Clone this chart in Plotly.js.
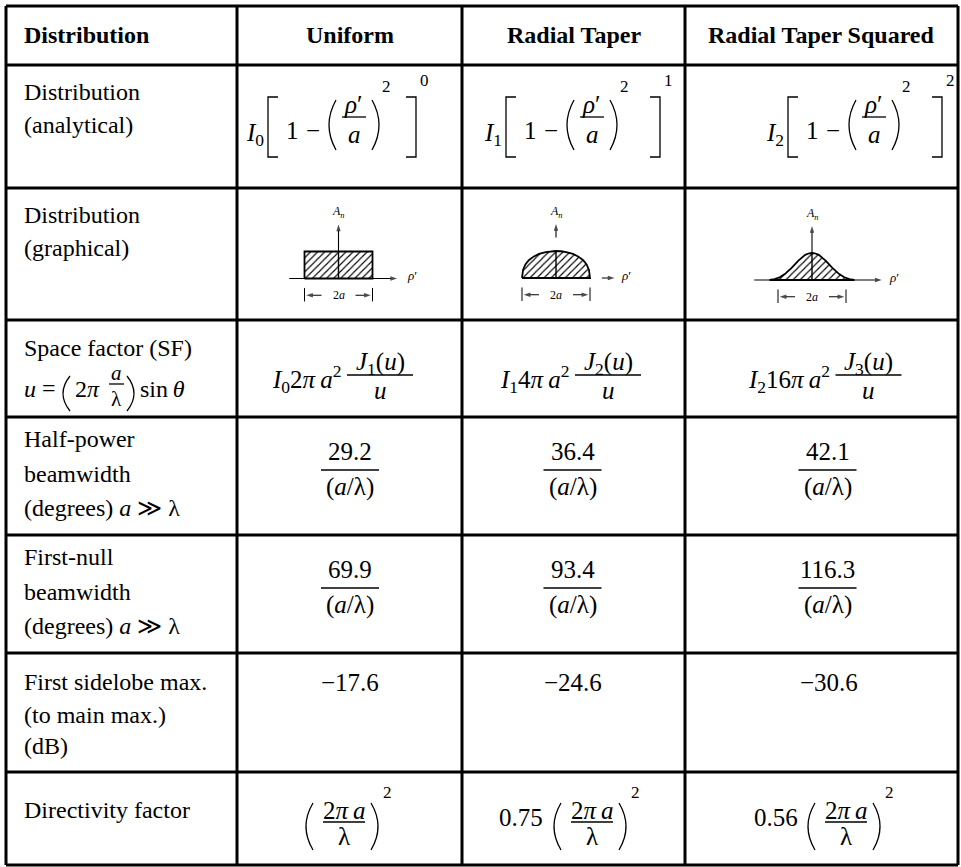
<!DOCTYPE html>
<html><head><meta charset="utf-8">
<script src="https://cdn.plot.ly/plotly-3.0.1.min.js"></script>
<style>html,body{margin:0;padding:0;background:#fff}</style>
</head><body>
<div id="chart" style="width:961px;height:867px"></div>
<script>
// ---------------- data ----------------
const headers = ['Distribution', 'Uniform', 'Radial Taper', 'Radial Taper Squared'];
const rowLabels = [
  ['Distribution', '(analytical)'],
  ['Distribution', '(graphical)'],
  ['Space factor (SF)'],
  ['Half-power', 'beamwidth', '(degrees) <i>a</i> ≫ λ'],
  ['First-null', 'beamwidth', '(degrees) <i>a</i> ≫ λ'],
  ['First sidelobe max.', '(to main max.)', '(dB)'],
  ['Directivity factor']
];
const currentIndex = [0, 1, 2];          // I0, I1, I2
const taperExponent = [0, 1, 2];         // [1-(rho'/a)^2]^n
const sfCoefficient = ['2', '4', '16'];  // I_n (coef) pi a^2
const besselOrder = [1, 2, 3];           // J_k(u)/u
const halfPowerBW = [29.2, 36.4, 42.1];  // degrees * (a/lambda)
const firstNullBW = [69.9, 93.4, 116.3];
const firstSidelobe = [-17.6, -24.6, -30.6]; // dB
const directivityCoef = ['', '0.75', '0.56'];

// graphical distributions (rho'/a vs normalised amplitude), read from the sketches
const uniformRho = [-1, -1, 1, 1, -1];
const uniformAmp = [0, 1, 1, 0, 0];
const taperRho = [-1, -0.97, -0.9, -0.8, -0.65, -0.5, -0.3, -0.15, 0, 0.15, 0.3, 0.5, 0.65, 0.8, 0.9, 0.97, 1, -1];
const taperAmp = [0, 0.3, 0.5, 0.66, 0.8, 0.89, 0.96, 0.99, 1, 0.99, 0.96, 0.89, 0.8, 0.66, 0.5, 0.3, 0, 0];
const squaredRho = [-1.25, -1.1, -0.95, -0.8, -0.6, -0.4, -0.2, -0.08, 0, 0.08, 0.2, 0.4, 0.6, 0.8, 0.95, 1.1, 1.25, -1.25];
const squaredAmp = [0, 0.03, 0.1, 0.22, 0.45, 0.72, 0.93, 0.99, 1, 0.99, 0.93, 0.72, 0.45, 0.22, 0.1, 0.03, 0, 0];

// ---------------- layout helpers ----------------
const W = 961, H = 867;
const FONT = 'Liberation Serif, Times New Roman, serif';
const px = v => v / W, py = v => 1 - v / H;
const ann = [], shapes = [], traces = [];

function T(x, y, text, o) {
  o = o || {};
  ann.push({xref: 'paper', yref: 'paper', x: px(x), y: py(y), text: text, showarrow: false,
    xanchor: o.xa || 'center', yanchor: 'middle', borderpad: 0,
    font: {family: FONT, size: o.s || 25, color: '#000'}});
}
function L(x0, y0, x1, y1, w) {
  shapes.push({type: 'line', xref: 'paper', yref: 'paper', x0: px(x0), y0: py(y0), x1: px(x1), y1: py(y1),
    line: {color: '#000', width: w || 1.6}});
}
function P(pts, w) {
  shapes.push({type: 'path', xref: 'paper', yref: 'paper', path: pts, line: {color: '#000', width: w || 1.3}});
}
const f = (x, y) => px(x).toFixed(5) + ',' + py(y).toFixed(5);
function lbrack(x, y1, y2) { P('M' + f(x + 10, y1) + 'L' + f(x, y1) + 'L' + f(x, y2) + 'L' + f(x + 10, y2)); }
function rbrack(x, y1, y2) { P('M' + f(x - 10, y1) + 'L' + f(x, y1) + 'L' + f(x, y2) + 'L' + f(x - 10, y2)); }
function lparen(x, y1, y2) { P('M' + f(x + 7, y1) + 'Q' + f(x - 7, (y1 + y2) / 2) + ' ' + f(x + 7, y2)); }
function rparen(x, y1, y2) { P('M' + f(x - 7, y1) + 'Q' + f(x + 7, (y1 + y2) / 2) + ' ' + f(x - 7, y2)); }

// ---------------- table grid ----------------
const colX = [6, 237, 462, 685, 958];
const rowY = [6, 65, 188, 320, 417, 535, 653, 772, 865];
colX.forEach(x => L(x, rowY[0], x, rowY[rowY.length - 1], 3));
rowY.forEach(y => L(colX[0], y, colX[colX.length - 1], y, 3));
const colC = [349.5, 573.5, 821.5];

// header
T(23, 35, '<b>' + headers[0] + '</b>', {xa: 'left', s: 24});
for (let c = 0; c < 3; c++) T(colC[c], 35, '<b>' + headers[c + 1] + '</b>', {s: 24});

// row labels (first column)
const labelCenters = [[92, 125], [215, 248], [348], [439, 474, 508], [557, 592, 626], [682, 715, 746], [810]];
rowLabels.forEach((lines, r) => lines.forEach((t, i) => T(23, labelCenters[r][i], t, {xa: 'left', s: 24})));
// second line of the space-factor label: u = (2π a/λ) sin θ
T(23, 389, '<i>u</i>', {xa: 'left', s: 24});
T(49, 388, '=', {s: 24});
lparen(63, 376, 411);
T(74, 389, '2<i>π</i>', {xa: 'left', s: 24});
T(116, 373, '<i>a</i>', {s: 21});
L(109, 384, 124, 384, 1.3);
T(116, 399, 'λ', {s: 21});
rparen(134, 376, 411);
T(139, 389, 'sin\u2009<i>θ</i>', {xa: 'left', s: 24});

// row 1: analytical distribution I_n [1-(ρ'/a)^2]^n
const r1Start = [245, 483, 765];
const r1Close = [171, 177, 177];
for (let c = 0; c < 3; c++) {
  const s = r1Start[c];
  T(s, 134, '<i>I</i><sub>' + currentIndex[c] + '</sub>', {xa: 'left'});
  lbrack(s + 23, 97, 157);
  T(s + 47, 131, '1');
  T(s + 68, 130, '−');
  lparen(s + 84, 100, 150);
  T(s + 108, 104, '<i>ρ</i>′');
  L(s + 97, 117, s + 121, 117, 1.3);
  T(s + 109, 134, '<i>a</i>');
  rparen(s + 134, 100, 150);
  T(s + 141, 87, '2', {s: 17});
  rbrack(s + r1Close[c], 97, 157);
  T(s + r1Close[c] + 8, 81, String(taperExponent[c]), {s: 17});
}

// row 3: space factor
const sfFrac = [380, 608, 868.5];
for (let c = 0; c < 3; c++) {
  T(sfFrac[c] - 38, 379, '<i>I</i><sub>' + currentIndex[c] + '</sub>' + sfCoefficient[c] + '<i>π</i>\u2009<i>a</i><sup>2</sup>', {xa: 'right'});
  T(sfFrac[c], 363, '<i>J</i><sub>' + besselOrder[c] + '</sub>(<i>u</i>)');
  L(sfFrac[c] - 33, 375, sfFrac[c] + 33, 375, 1.6);
  T(sfFrac[c], 390, '<i>u</i>');
}

// rows 4 & 5: beamwidths
const bwC = [350, 572.5, 827.5];
[[halfPowerBW, 417], [firstNullBW, 535]].forEach(([vals, top]) => {
  for (let c = 0; c < 3; c++) {
    T(bwC[c], top + 34, vals[c].toFixed(1));
    L(bwC[c] - 29, top + 53, bwC[c] + 29, top + 53, 1.6);
    T(bwC[c], top + 70, '(<i>a</i>/λ)');
  }
});

// row 6: sidelobe
const slC = [350, 573, 829];
for (let c = 0; c < 3; c++) T(slC[c], 682, (firstSidelobe[c] < 0 ? '−' : '') + Math.abs(firstSidelobe[c]).toFixed(1));

// row 7: directivity
const dirFrac = [344, 592, 846];
const dirCoefC = [0, 521, 776];
for (let c = 0; c < 3; c++) {
  const fc = dirFrac[c];
  if (directivityCoef[c]) T(dirCoefC[c], 817, directivityCoef[c]);
  lparen(fc - 38, 803, 850);
  T(fc, 810, '2<i>π</i>\u2009<i>a</i>');
  L(fc - 21, 822, fc + 21, 822, 1.6);
  T(fc, 836, 'λ');
  rparen(fc + 34, 803, 850);
  T(fc + 43, 792, '2', {s: 17});
}

// ---------------- graphical distributions (mini axes) ----------------
const diag = [{cx: 338.5, by: 278.5}, {cx: 556, by: 278}, {cx: 812, by: 280}];
const UX = 34, UY = 27, XR = [-2.5, 2.5], YR = [-1.2, 2.8];
const layoutAxes = {};
const axN = ['', '2', '3'];
diag.forEach((d, i) => {
  layoutAxes['xaxis' + axN[i]] = {domain: [px(d.cx + XR[0] * UX), px(d.cx + XR[1] * UX)], range: XR, visible: false, fixedrange: true, anchor: 'y' + axN[i]};
  layoutAxes['yaxis' + axN[i]] = {domain: [py(d.by - YR[0] * UY), py(d.by - YR[1] * UY)], range: YR, visible: false, fixedrange: true, anchor: 'x' + axN[i]};
});
const hatch = {shape: '/', fgcolor: '#000', bgcolor: '#fff', size: 5, solidity: 0.22};
const shapesData = [[uniformRho, uniformAmp], [taperRho, taperAmp], [squaredRho, squaredAmp]];
shapesData.forEach(([xs, ys], i) => {
  const xa = 'x' + axN[i], ya = 'y' + axN[i];
  traces.push({type: 'scatter', mode: 'lines', x: xs, y: ys, xaxis: xa, yaxis: ya, fill: 'toself',
    fillcolor: '#fff', fillpattern: hatch, line: {color: '#000', width: 1.8}, hoverinfo: 'skip', showlegend: false});
  // centre line
  traces.push({type: 'scatter', mode: 'lines', x: [0, 0], y: [0, Math.max.apply(null, ys)], xaxis: xa, yaxis: ya,
    line: {color: '#000', width: 1.4}, hoverinfo: 'skip', showlegend: false});
  // 2a dimension ticks
  traces.push({type: 'scatter', mode: 'lines', x: [-1, -1, null, 1, 1], y: [-0.35, -0.85, null, -0.35, -0.85], xaxis: xa, yaxis: ya,
    line: {color: '#000', width: 1}, hoverinfo: 'skip', showlegend: false});
});
function arrow(i, x0, y0, x1, y1) {
  traces.push({type: 'scatter', mode: 'lines+markers', x: [x0, x1], y: [y0, y1], xaxis: 'x' + axN[i], yaxis: 'y' + axN[i],
    line: {color: '#000', width: 1.1},
    marker: {symbol: 'arrow', size: [0, 7], angleref: 'previous', color: '#000', line: {width: 0}},
    hoverinfo: 'skip', showlegend: false, cliponaxis: false});
}
function dl(i, x, y, text, xa, s) {
  ann.push({xref: 'x' + axN[i], yref: 'y' + axN[i], x: x, y: y, text: text, showarrow: false, xanchor: xa || 'center',
    yanchor: 'middle', font: {family: FONT, size: s || 12, color: '#000'}});
}
// uniform
arrow(0, 0, 1, 0, 2.0);
arrow(0, -1.45, 0, 1.72, 0);
dl(0, 1.95, 0.1, '<i>ρ</i>′', 'left', 13);
// radial taper
arrow(1, 0, 1.5, 0, 2.0);
arrow(1, 1.35, 0, 1.72, 0);
dl(1, 1.85, 0.1, '<i>ρ</i>′', 'left', 13);
// radial taper squared
arrow(2, 0, 1, 0, 2.0);
arrow(2, -1.7, 0, 2.05, 0);
dl(2, 2.2, 0.1, '<i>ρ</i>′', 'left', 13);
for (let i = 0; i < 3; i++) {
  dl(i, 0, 2.45, '<i>A</i><sub><i>n</i></sub>', 'center', 12);
  dl(i, 0, -0.62, '2<i>a</i>', 'center', 12);
  arrow(i, -0.5, -0.62, -0.95, -0.62);
  arrow(i, 0.5, -0.62, 0.95, -0.62);
}

const layout = Object.assign({
  width: W, height: H, margin: {l: 0, r: 0, t: 0, b: 0},
  paper_bgcolor: '#fff', plot_bgcolor: 'rgba(0,0,0,0)', showlegend: false,
  annotations: ann, shapes: shapes, font: {family: FONT, color: '#000'}
}, layoutAxes);

Plotly.newPlot('chart', traces, layout, {staticPlot: true, displayModeBar: false});
</script>
</body></html>
